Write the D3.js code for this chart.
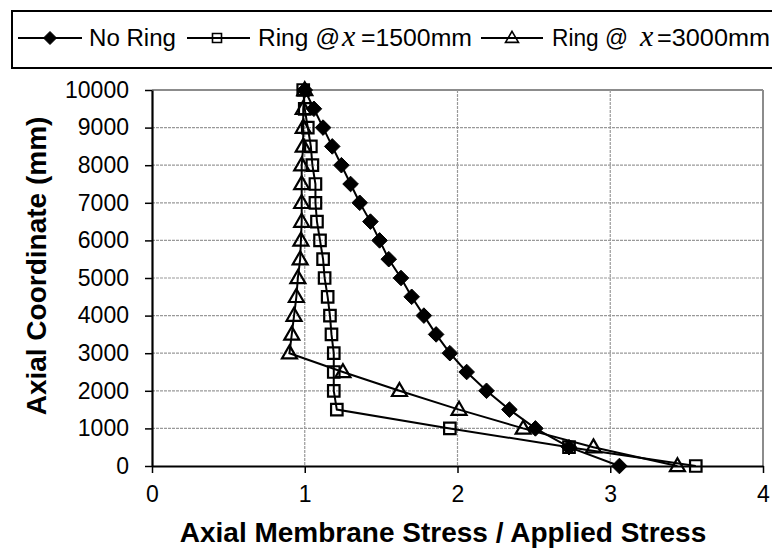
<!DOCTYPE html>
<html>
<head>
<meta charset="utf-8">
<script src="https://cdn.jsdelivr.net/npm/d3@7"></script>
<style>
  html, body { margin: 0; padding: 0; background: #fff; }
  svg { display: block; font-family: "Liberation Sans", Arial, sans-serif; }
</style>
</head>
<body>
<svg id="chart" width="772" height="557"></svg>
<script>
// ---- data ----
const axialCoord = [0, 500, 1000, 1500, 2000, 2500, 3000, 3500, 4000, 4500, 5000,
                    5500, 6000, 6500, 7000, 7500, 8000, 8500, 9000, 9500, 10000];
const noRing   = [3.06, 2.73, 2.51, 2.34, 2.19, 2.06, 1.95, 1.86, 1.78, 1.70, 1.63,
                  1.55, 1.49, 1.43, 1.36, 1.30, 1.24, 1.18, 1.12, 1.06, 1.00];
const ring1500 = [3.56, 2.73, 1.95, 1.21, 1.19, 1.19, 1.19, 1.175, 1.165, 1.15, 1.13,
                  1.12, 1.10, 1.08, 1.07, 1.07, 1.05, 1.04, 1.02, 1.00, 0.99];
const ring3000 = [3.44, 2.89, 2.43, 2.01, 1.62, 1.25, 0.90, 0.915, 0.93, 0.945, 0.955,
                  0.97, 0.975, 0.98, 0.98, 0.98, 0.98, 0.99, 0.99, 0.99, 1.00];
const xTicks = [0, 1, 2, 3, 4];
const yTicks = [0, 1000, 2000, 3000, 4000, 5000, 6000, 7000, 8000, 9000, 10000];
const seriesNames = ["No Ring", "Ring @", "Ring @"];
const legendSuffix = ["", "=1500mm", "=3000mm"];

// ---- layout ----
const svg = d3.select("#chart");
const L = 152, R = 763, T = 90, B = 466;
const x = d3.scaleLinear().domain([0, 4]).range([L, R]);
const y = d3.scaleLinear().domain([0, 10000]).range([B, T]);

// grid
const grid = svg.append("g");
grid.selectAll("line.h").data(yTicks.filter(d => d > 0)).enter().append("line")
  .attr("x1", L).attr("x2", R).attr("y1", d => y(d)).attr("y2", d => y(d))
  .attr("stroke", d => d === 10000 ? "#8c8c8c" : "#999")
  .attr("stroke-width", d => d === 10000 ? 2 : 1.2)
  .attr("stroke-dasharray", d => d === 10000 ? null : "3,1");
grid.selectAll("line.v").data(xTicks.filter(d => d > 0)).enter().append("line")
  .attr("y1", T).attr("y2", B).attr("x1", d => x(d)).attr("x2", d => x(d))
  .attr("stroke", d => d === 4 ? "#8c8c8c" : "#999")
  .attr("stroke-width", d => d === 4 ? 2 : 1.2)
  .attr("stroke-dasharray", d => d === 4 ? null : "3,1");

// axes
const yAxis = svg.append("g").attr("transform", `translate(${L},0)`)
  .call(d3.axisLeft(y).tickValues(yTicks).tickSizeInner(7).tickSizeOuter(0).tickPadding(16).tickFormat(d3.format("d")));
const xAxis = svg.append("g").attr("transform", `translate(0,${B})`)
  .call(d3.axisBottom(x).tickValues(xTicks).tickSizeInner(7).tickSizeOuter(0).tickPadding(13).tickFormat(d3.format("d")));
[xAxis, yAxis].forEach(a => {
  a.select(".domain").attr("stroke", "#000").attr("stroke-width", 2.2);
  a.selectAll(".tick line").attr("stroke", "#000").attr("stroke-width", 1.5);
  a.selectAll(".tick text").attr("fill", "#000").attr("font-size", 23)
    .attr("font-family", '"Liberation Sans", Arial, sans-serif');
});

// titles
svg.append("text").attr("x", 443).attr("y", 542).attr("text-anchor", "middle")
  .attr("font-size", 28).attr("font-weight", "bold").text("Axial Membrane Stress / Applied Stress");
svg.append("text").attr("transform", "translate(46,266) rotate(-90)").attr("text-anchor", "middle")
  .attr("font-size", 28).attr("font-weight", "bold").text("Axial Coordinate (mm)");

// markers
const diamond = r => `M0,${-r}L${r},0L0,${r}L${-r},0Z`;
const square = s => `M${-s/2},${-s/2}h${s}v${s}h${-s}Z`;
const triangle = (w, h) => `M0,${-h*0.6}L${w/2},${h*0.4}L${-w/2},${h*0.4}Z`;

const series = [
  { vals: noRing,   path: diamond(7.8),     fill: "#000",  sw: 1 },
  { vals: ring1500, path: square(11.5),     fill: "none",  sw: 2.2 },
  { vals: ring3000, path: triangle(15, 13), fill: "none",  sw: 2.2 }
];
const line = d3.line().x(d => x(d[0])).y(d => y(d[1]));
series.forEach(s => {
  const pts = s.vals.map((v, i) => [v, axialCoord[i]]);
  svg.append("path").datum(pts).attr("d", line).attr("fill", "none")
    .attr("stroke", "#000").attr("stroke-width", 2);
});
series.forEach(s => {
  const pts = s.vals.map((v, i) => [v, axialCoord[i]]);
  svg.append("g").selectAll("path").data(pts).enter().append("path")
    .attr("transform", d => `translate(${x(d[0])},${y(d[1])})`)
    .attr("d", s.path).attr("fill", s.fill).attr("stroke", "#000").attr("stroke-width", s.sw);
});

// legend
const lg = svg.append("g");
lg.append("rect").attr("x", 12).attr("y", 11).attr("width", 800).attr("height", 57)
  .attr("fill", "#fff").attr("stroke", "#000").attr("stroke-width", 2);
const ly = 38;
const legItems = [
  { x1: 18, x2: 82, mx: 50, path: diamond(6.5), fill: "#000", sw: 1, tx: 89, tl: 87 },
  { x1: 187, x2: 250, mx: 217, path: square(9), fill: "none", sw: 1.6, tx: 258, tl: 82, xx: 342, ex: 361, el: 111 },
  { x1: 481, x2: 543, mx: 512, path: triangle(13, 11), fill: "none", sw: 1.6, tx: 552, tl: 76, xx: 640, ex: 657, el: 113 }
];
legItems.forEach((it, i) => {
  lg.append("line").attr("x1", it.x1).attr("x2", it.x2).attr("y1", ly).attr("y2", ly)
    .attr("stroke", "#000").attr("stroke-width", 2);
  lg.append("path").attr("transform", `translate(${it.mx},${ly})`).attr("d", it.path)
    .attr("fill", it.fill).attr("stroke", "#000").attr("stroke-width", it.sw);
  lg.append("text").attr("x", it.tx).attr("y", 46).attr("font-size", 23)
    .attr("textLength", it.tl).attr("lengthAdjust", "spacingAndGlyphs").text(seriesNames[i]);
  if (legendSuffix[i]) {
    lg.append("text").attr("x", it.xx).attr("y", 46).attr("font-size", 30)
      .attr("font-family", '"Liberation Serif", "Times New Roman", serif').attr("font-style", "italic").text("x");
    lg.append("text").attr("x", it.ex).attr("y", 46).attr("font-size", 23)
      .attr("textLength", it.el).attr("lengthAdjust", "spacingAndGlyphs").text(legendSuffix[i]);
  }
});
</script>
</body>
</html>
